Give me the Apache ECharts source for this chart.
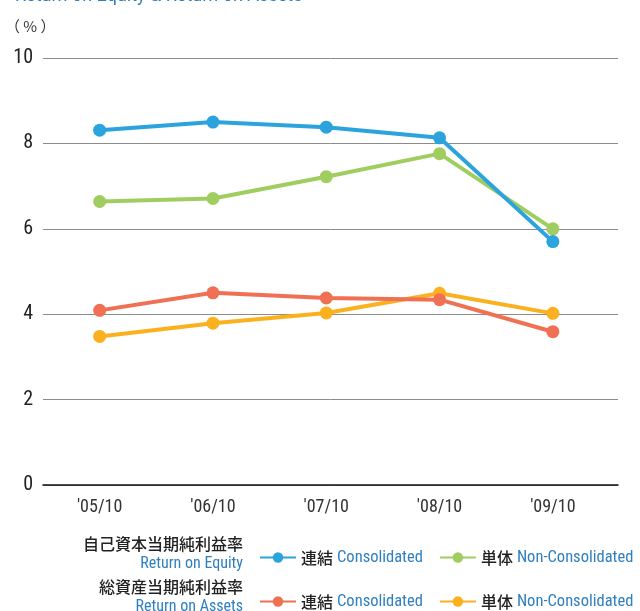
<!DOCTYPE html>
<html>
<head>
<meta charset="utf-8">
<script src="https://cdn.jsdelivr.net/npm/echarts@6/dist/echarts.min.js"></script>
<style>
    html, body { margin: 0; padding: 0; background: #fff; }
    #chart { width: 640px; height: 611px; }
</style>
</head>
<body>
<div id="chart"></div>
<script>
    // 年度
    var categories = ["'05/10", "'06/10", "'07/10", "'08/10", "'09/10"];
    var yTicks = [0, 2, 4, 6, 8, 10];
    // 自己資本当期純利益率 (ROE)
    var roeConsolidated = [8.31, 8.50, 8.38, 8.13, 5.70];
    var roeNonConsolidated = [6.64, 6.71, 7.22, 7.76, 6.00];
    // 総資産当期純利益率 (ROA)
    var roaConsolidated = [4.09, 4.50, 4.38, 4.34, 3.59];
    var roaNonConsolidated = [3.48, 3.79, 4.03, 4.49, 4.02];

    var seriesNames = ['ROE連結', 'ROE単体', 'ROA連結', 'ROA単体'];
    var seriesColors = ['#2ba3dd', '#9fcd5f', '#f07053', '#fbb11f'];
    var legendJa = { 'ROE連結': '連結', 'ROE単体': '単体', 'ROA連結': '連結', 'ROA単体': '単体' };
    var legendEn = { 'ROE連結': 'Consolidated', 'ROE単体': 'Non-Consolidated', 'ROA連結': 'Consolidated', 'ROA単体': 'Non-Consolidated' };

    var numFont = '"Roboto Condensed", Roboto, sans-serif';
    var jaFont = '"Noto Sans CJK JP", sans-serif';
    var blueText = '#2f7fc1';

    function toPoints(vals) {
        return vals.map(function (v, i) { return [i, v]; });
    }

    function makeSeries(idx, vals) {
        return {
            name: seriesNames[idx],
            type: 'line',
            data: toPoints(vals),
            symbol: 'circle',
            symbolSize: 13,
            lineStyle: { width: 4, color: seriesColors[idx] },
            itemStyle: { color: seriesColors[idx] },
            z: 10 - idx
        };
    }

    function makeLegend(names, top) {
        return {
            data: names,
            left: 254,
            top: top,
            width: 420,
            itemWidth: 36,
            itemHeight: 13,
            itemGap: 16,
            formatter: function (name) {
                return '{a|' + legendJa[name] + '}{b|' + legendEn[name] + '}';
            },
            textStyle: {
                rich: {
                    a: { fontFamily: jaFont, fontSize: 16, color: '#222', fontWeight: 500, padding: [0, 4, 0, 0] },
                    b: { fontFamily: numFont, fontSize: 16.5, color: blueText }
                }
            }
        };
    }

    var chart = echarts.init(document.getElementById('chart'));
    var option = {
        animation: false,
        grid: { left: 43, right: 22, top: 58, bottom: 126 },
        xAxis: {
            type: 'value',
            min: -0.5,
            max: 4.575,
            splitLine: { show: false },
            axisLine: { show: true, lineStyle: { color: '#111', width: 1.5 } },
            axisTick: { show: false },
            axisLabel: {
                customValues: categories.map(function (c, i) { return i; }),
                formatter: function (v) { return categories[Math.round(v)]; },
                fontFamily: numFont,
                fontSize: 18,
                color: '#333',
                margin: 13
            }
        },
        yAxis: {
            type: 'value',
            min: yTicks[0],
            max: yTicks[yTicks.length - 1],
            interval: 2,
            axisLine: { show: false },
            axisTick: { show: false },
            splitLine: { lineStyle: { color: '#8c8c8c', width: 1 } },
            axisLabel: {
                fontFamily: numFont,
                fontSize: 20,
                color: '#222',
                margin: 10
            }
        },
        legend: [
            makeLegend(['ROE連結', 'ROE単体'], 544),
            makeLegend(['ROA連結', 'ROA単体'], 588)
        ],
        graphic: [
            {
                type: 'text', left: 15, top: -13,
                style: { text: 'Return on Equity & Return on Assets', fontFamily: 'Roboto, sans-serif', fontSize: 18, fill: blueText }
            },
            {
                type: 'text', left: 5, top: 19,
                style: { text: '（ % ）', fontFamily: jaFont, fontSize: 15, fill: '#333' }
            },
            {
                type: 'text', right: 397, top: 536,
                style: { text: '自己資本当期純利益率', fontFamily: jaFont, fontSize: 16, fill: '#222', fontWeight: 500 }
            },
            {
                type: 'text', right: 397, top: 556,
                style: { text: 'Return on Equity', fontFamily: numFont, fontSize: 16, fill: blueText }
            },
            {
                type: 'text', right: 397, top: 579,
                style: { text: '総資産当期純利益率', fontFamily: jaFont, fontSize: 16, fill: '#222', fontWeight: 500 }
            },
            {
                type: 'text', right: 397, top: 599,
                style: { text: 'Return on Assets', fontFamily: numFont, fontSize: 16, fill: blueText }
            }
        ],
        series: [
            makeSeries(0, roeConsolidated),
            makeSeries(1, roeNonConsolidated),
            makeSeries(2, roaConsolidated),
            makeSeries(3, roaNonConsolidated)
        ]
    };
    chart.setOption(option);
</script>
</body>
</html>
